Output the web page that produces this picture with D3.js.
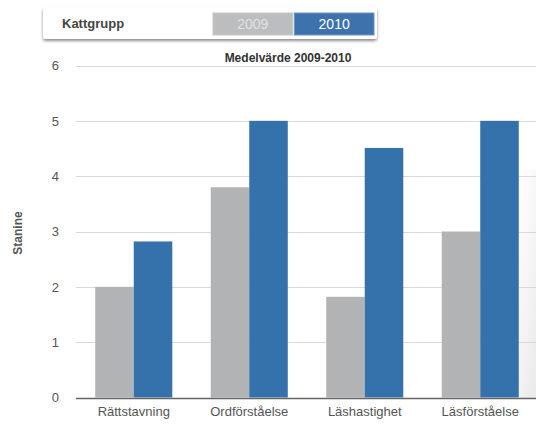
<!DOCTYPE html>
<html>
<head>
<meta charset="utf-8">
<script src="https://cdn.jsdelivr.net/npm/d3@7"></script>
<style>
  body { margin: 0; background: #fff; }
  svg { display: block; font-family: "Liberation Sans", Arial, sans-serif; }
</style>
</head>
<body>
<div id="chart"></div>
<script>
// data
const categories = ["Rättstavning", "Ordförståelse", "Läshastighet", "Läsförståelse"];
const years = ["2009", "2010"];
const values2009 = [2.0, 3.8, 1.82, 3.0];
const values2010 = [2.82, 5.0, 4.51, 5.0];
const yTicks = [0, 1, 2, 3, 4, 5, 6];

const colors = { "2009": "#b1b3b4", "2010": "#3571aa" };

const width = 536, height = 425;
const margin = { top: 66, right: -2, bottom: 27, left: 76 };

const svg = d3.select('#chart').append('svg')
  .attr('width', width)
  .attr('height', height);

// faint shaded panel at right edge
const defs = svg.append('defs');
const grad = defs.append('linearGradient').attr('id', 'edge')
  .attr('x1', 0).attr('x2', 0.6).attr('y1', 0).attr('y2', 1);
grad.append('stop').attr('offset', '0%').attr('stop-color', '#f0f0f0').attr('stop-opacity', 0);
grad.append('stop').attr('offset', '100%').attr('stop-color', '#ececec').attr('stop-opacity', 1);
svg.append('rect')
  .attr('x', 519).attr('y', 170).attr('width', 17).attr('height', 228)
  .attr('fill', 'url(#edge)');

const x0 = d3.scaleBand()
  .domain(categories)
  .range([margin.left, width - margin.right])
  .paddingInner(0.333)
  .paddingOuter(0.1665);

const x1 = d3.scaleBand()
  .domain(years)
  .range([0, x0.bandwidth()]);

const y = d3.scaleLinear()
  .domain([0, 6])
  .range([height - margin.bottom - 0.5, margin.top - 0.5]);

// gridlines
svg.append('g')
  .selectAll('line')
  .data(yTicks.filter(d => d > 0))
  .enter()
  .append('line')
  .attr('x1', margin.left)
  .attr('x2', width)
  .attr('y1', d => Math.round(y(d)) + 0.5)
  .attr('y2', d => Math.round(y(d)) + 0.5)
  .attr('stroke', '#d9d9d9')
  .attr('stroke-width', 1.2);

// y tick labels
const yAxis = svg.append('g')
  .attr('transform', `translate(${margin.left - 17},0)`)
  .call(d3.axisLeft(y).tickValues(yTicks).tickFormat(d3.format('d')).tickSize(0).tickPadding(0));
yAxis.select('.domain').remove();
yAxis.selectAll('text')
  .attr('fill', '#555')
  .attr('font-size', 13)
  .attr('font-family', '"Liberation Sans", Arial, sans-serif');

// bars
const seriesData = categories.map((c, i) => ({
  cat: c,
  vals: [{ year: "2009", v: values2009[i] }, { year: "2010", v: values2010[i] }]
}));

const groups = svg.selectAll('.grp')
  .data(seriesData)
  .enter()
  .append('g')
  .attr('class', 'grp')
  .attr('transform', d => `translate(${x0(d.cat)},0)`);

groups.selectAll('rect')
  .data(d => d.vals)
  .enter()
  .append('rect')
  .attr('x', d => x1(d.year))
  .attr('width', x1.bandwidth())
  .attr('y', d => y(d.v))
  .attr('height', d => y(0) - y(d.v))
  .attr('fill', d => colors[d.year]);

// baseline axis
const xAxis = svg.append('g')
  .attr('transform', `translate(0,${Math.round(y(0)) + 0.5})`)
  .call(d3.axisBottom(x0).tickSize(0).tickPadding(8));
xAxis.select('.domain')
  .attr('stroke', '#666')
  .attr('stroke-width', 1.3)
  .attr('d', `M${margin.left},0H${width}`);
xAxis.selectAll('text')
  .attr('fill', '#555')
  .attr('font-size', 13)
  .attr('font-family', '"Liberation Sans", Arial, sans-serif');

// y title
svg.append('text')
  .text('Stanine')
  .attr('transform', 'translate(22,233) rotate(-90)')
  .attr('text-anchor', 'middle')
  .attr('font-size', 12)
  .attr('font-weight', 'bold')
  .attr('fill', '#555');

// chart title
svg.append('text')
  .text('Medelvärde 2009-2010')
  .attr('x', 288)
  .attr('y', 62)
  .attr('text-anchor', 'middle')
  .attr('font-size', 12)
  .attr('font-weight', 'bold')
  .attr('fill', '#333');

// legend box with shadow
const shadow = defs.append('filter').attr('id', 'shadow')
  .attr('x', '-5%').attr('y', '-30%').attr('width', '110%').attr('height', '170%');
shadow.append('feDropShadow')
  .attr('dx', 0).attr('dy', 2).attr('stdDeviation', 1.8)
  .attr('flood-color', '#000').attr('flood-opacity', 0.45);

const legend = svg.append('g');
legend.append('rect')
  .attr('x', 43).attr('y', 7).attr('width', 334).attr('height', 32)
  .attr('rx', 3)
  .attr('fill', '#fff')
  .attr('filter', 'url(#shadow)');

legend.append('text')
  .text('Kattgrupp')
  .attr('x', 62).attr('y', 28)
  .attr('font-size', 13)
  .attr('font-weight', 'bold')
  .attr('fill', '#444');

const legendX = d3.scaleBand().domain(years).range([213, 374]).paddingInner(0.02);
const btn = legend.selectAll('.btn')
  .data(years)
  .enter()
  .append('g')
  .attr('class', 'btn');
btn.append('rect')
  .attr('x', d => legendX(d))
  .attr('y', 13)
  .attr('width', legendX.bandwidth())
  .attr('height', 22)
  .attr('fill', d => d === "2009" ? '#bcbdbe' : '#3d72ad')
  .attr('stroke', d => d === "2009" ? '#c8c8c8' : '#6a93c4')
  .attr('stroke-width', 1);
btn.append('text')
  .text(d => d)
  .attr('x', d => legendX(d) + legendX.bandwidth() / 2)
  .attr('y', 29)
  .attr('text-anchor', 'middle')
  .attr('font-size', 14)
  .attr('fill', d => d === "2009" ? '#e2e2e2' : '#fff');
</script>
</body>
</html>
